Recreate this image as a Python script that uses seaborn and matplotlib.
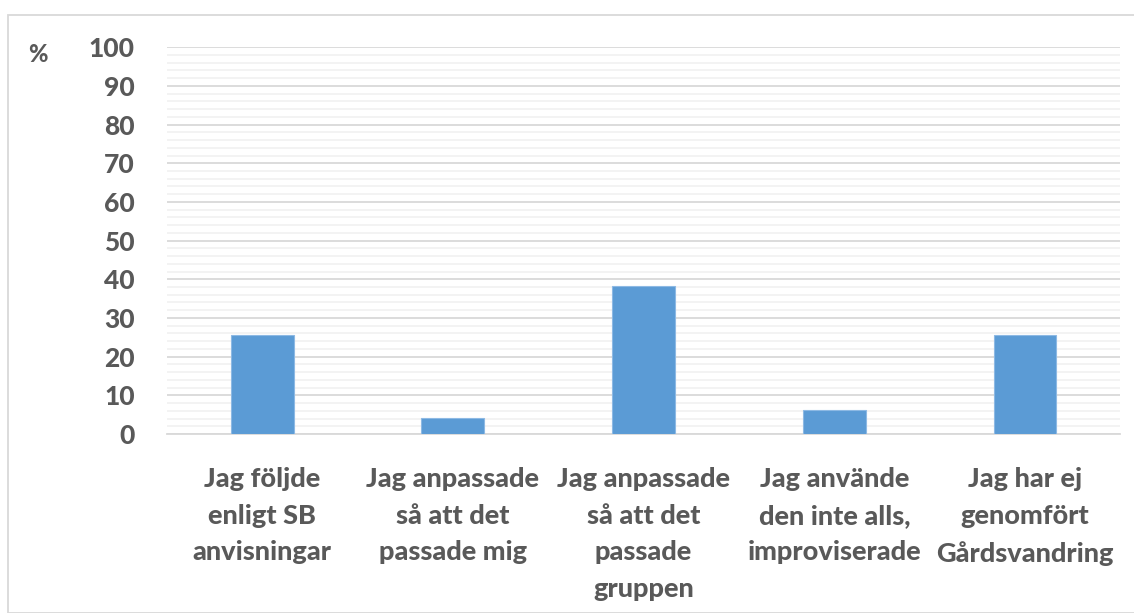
import matplotlib
matplotlib.use("Agg")
import matplotlib.pyplot as plt
import seaborn as sns
import pandas as pd
from matplotlib.patches import Rectangle
from matplotlib.ticker import MultipleLocator

categories = [
    "Jag följde\nenligt SB\nanvisningar",
    "Jag anpassade\nså att det\npassade mig",
    "Jag anpassade\nså att det\npassade\ngruppen",
    "Jag använde\nden inte alls,\nimproviserade",
    "Jag har ej\ngenomfört\nGårdsvandring",
]
values = [25.6, 4.2, 38.3, 6.3, 25.6]
yticks = [0, 10, 20, 30, 40, 50, 60, 70, 80, 90, 100]

sns.set_theme(style="white")
plt.rcParams['font.family'] = ['Lato', 'DejaVu Sans']

fig = plt.figure(figsize=(11.34, 6.13), dpi=100)
ax = fig.add_axes([0.147, 0.292, 0.841, 0.631])

df = pd.DataFrame({"cat": categories, "val": values})
sns.barplot(data=df, x="cat", y="val", color="#5B9BD5", saturation=1,
            width=0.33, ax=ax, edgecolor="#8DB9E4", linewidth=0.8, zorder=3)

ax.set_ylim(0, 100)
ax.set_xlim(-0.5, 4.5)
ax.set_yticks(yticks)
ax.yaxis.set_minor_locator(MultipleLocator(2))
ax.grid(which="major", axis="y", color="#d9d9d9", linewidth=1.3, zorder=0)
ax.grid(which="minor", axis="y", color="#f2f2f2", linewidth=1.3, zorder=0)
ax.set_axisbelow(True)
for s in ["top", "right", "left"]:
    ax.spines[s].set_visible(False)
ax.spines["bottom"].set_color("#d9d9d9")
ax.spines["bottom"].set_linewidth(1.3)
ax.tick_params(axis="both", which="both", length=0, colors="#595959")
ax.tick_params(axis="y", pad=23)
ax.tick_params(axis="x", pad=24)
for lbl in ax.get_yticklabels():
    lbl.set_fontsize(19)
    lbl.set_fontweight("black")
for lbl in ax.get_xticklabels():
    lbl.set_fontsize(19.5)
    lbl.set_fontweight("black")
    lbl.set_linespacing(1.62)
ax.set_xlabel("")
ax.set_ylabel("")

fig.text(38 / 1134, 1 - 55 / 613, "%", fontsize=17, fontweight="black",
         color="#595959", ha="center", va="center")

fig.patches.append(Rectangle((8 / 1134, 0), 1.2, 1 - 15 / 613,
                             transform=fig.transFigure, fill=False,
                             edgecolor="#d9d9d9", linewidth=1.3))

fig.savefig("out.png", dpi=100)
